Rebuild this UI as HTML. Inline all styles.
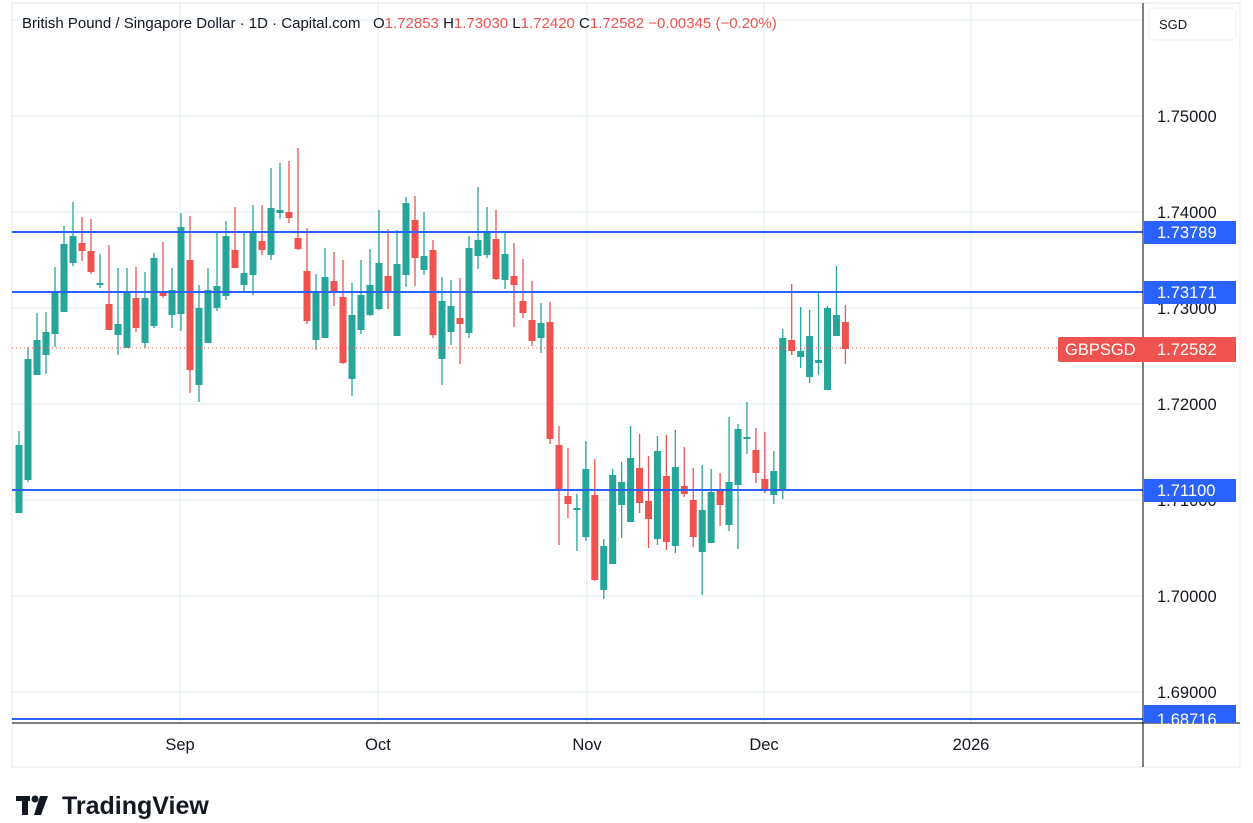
<!DOCTYPE html>
<html><head><meta charset="utf-8"><style>
body{margin:0;background:#fff;width:1253px;height:823px;overflow:hidden;font-family:"Liberation Sans",sans-serif}
svg{position:absolute;left:0;top:0}
</style></head><body>
<svg id="s" width="1253" height="823" xmlns="http://www.w3.org/2000/svg" font-family="Liberation Sans, sans-serif">
<rect x="12" y="3" width="1228" height="764" fill="#fff" stroke="#e8e8e8" stroke-width="1"/>
<g stroke="#e1ecf2" stroke-width="1">
<line x1="12" y1="20" x2="1143" y2="20"/>
<line x1="12" y1="116" x2="1143" y2="116"/>
<line x1="12" y1="212" x2="1143" y2="212"/>
<line x1="12" y1="308" x2="1143" y2="308"/>
<line x1="12" y1="404" x2="1143" y2="404"/>
<line x1="12" y1="500" x2="1143" y2="500"/>
<line x1="12" y1="596" x2="1143" y2="596"/>
<line x1="12" y1="692" x2="1143" y2="692"/>
<line x1="180" y1="3" x2="180" y2="723"/>
<line x1="378" y1="3" x2="378" y2="723"/>
<line x1="587" y1="3" x2="587" y2="723"/>
<line x1="764" y1="3" x2="764" y2="723"/>
<line x1="971" y1="3" x2="971" y2="723"/>
</g>
<g id="c"></g>
<line x1="12" y1="348" x2="1143" y2="348" stroke="#ef5350" stroke-width="1" stroke-dasharray="1,3"/>
<g stroke="#2962ff" stroke-width="2">
<line x1="12" y1="232" x2="1143" y2="232"/>
<line x1="12" y1="292" x2="1143" y2="292"/>
<line x1="12" y1="490" x2="1143" y2="490"/>
<line x1="12" y1="719" x2="1143" y2="719"/>
</g>
<line x1="1143" y1="3" x2="1143" y2="767" stroke="#000" stroke-width="1"/>
<line x1="12" y1="723" x2="1240" y2="723" stroke="#000" stroke-width="1"/>
<rect x="1149" y="8" width="87" height="32" rx="5" fill="#fff" stroke="#eee"/>
<text x="1159" y="29" font-size="13" fill="#131722">SGD</text>
<g font-size="16.5" fill="#131722">
<text x="1157" y="122">1.75000</text>
<text x="1157" y="218">1.74000</text>
<text x="1157" y="314">1.73000</text>
<text x="1157" y="410">1.72000</text>
<text x="1157" y="506">1.71000</text>
<text x="1157" y="602">1.70000</text>
<text x="1157" y="698">1.69000</text>
</g>
<rect x="1144" y="221" width="92" height="23" fill="#2962ff"/>
<text x="1157" y="238" font-size="16.5" fill="#fff">1.73789</text>
<rect x="1144" y="281" width="92" height="23" fill="#2962ff"/>
<text x="1157" y="298" font-size="16.5" fill="#fff">1.73171</text>
<rect x="1144" y="479" width="92" height="23" fill="#2962ff"/>
<text x="1157" y="496" font-size="16.5" fill="#fff">1.71100</text>
<rect x="1144" y="705" width="92" height="18" fill="#2962ff"/>
<text x="1157" y="725" font-size="16.5" fill="#fff">1.68716</text>
<rect x="1058" y="337" width="87" height="25" rx="2" fill="#ef5350"/>
<text x="1065" y="355" font-size="16.5" fill="#fff">GBPSGD</text>
<rect x="1144" y="337" width="92" height="25" fill="#ef5350"/>
<text x="1157" y="355" font-size="16.5" fill="#fff">1.72582</text>
<g font-size="16.5" fill="#131722" text-anchor="middle">
<text x="180" y="750">Sep</text>
<text x="378" y="750">Oct</text>
<text x="587" y="750">Nov</text>
<text x="764" y="750">Dec</text>
<text x="971" y="750">2026</text>
</g>
<text x="22" y="28" font-size="15" fill="#131722">British Pound / Singapore Dollar · 1D · Capital.com</text>
<text x="373" y="28" font-size="15" fill="#131722">O<tspan fill="#ef5350">1.72853</tspan> H<tspan fill="#ef5350">1.73030</tspan> L<tspan fill="#ef5350">1.72420</tspan> C<tspan fill="#ef5350">1.72582</tspan> <tspan fill="#ef5350">−0.00345 (−0.20%)</tspan></text>
<g fill="#131722">
<rect x="16" y="796" width="14" height="5"/><rect x="22" y="796" width="6" height="19"/>
<circle cx="35" cy="799" r="3.5"/><path d="M40 796h8l-7 19h-7z"/>
</g>
<text x="62" y="814" font-size="25" font-weight="bold" fill="#131722">TradingView</text>
</svg>
<script>
var d=[[445,513,431,513,1],[359,480,347,482,1],[340,375,313,375,1],[332,355,312,374,1],[293,334,267,347,1],[244,312,226,312,1],[236,263,202,266,1],[243,251,217,261,0],[251,272,219,274,0],[283,284,254,288,1],[304,330,245,330,0],[324,335,268,355,1],[291,348,268,348,1],[298,328,267,332,0],[298,343,272,348,1],[258,326,253,328,1],[291,296,242,298,0],[290,315,268,328,1],[227,314,213,331,1],[260,370,216,393,0],[308,385,285,402,1],[290,343,268,343,1],[286,308,231,311,1],
[236,296,221,300,1],[250,268,207,268,0],[273,285,232,293,1],[232,275,205,295,1],[241,250,205,255,0],[208,255,168,260,1],[210,213,163,219,1],[212,218,161,223,0],[238,249,148,250,0],[271,321,228,324,0],[291,340,274,350,1],[277,338,248,338,1],[281,293,252,306,0],[297,363,260,364,0],[315,379,283,396,1],[295,330,260,334,1],[285,315,249,316,1],[263,309,210,310,1],[276,293,229,309,0],[264,336,230,336,1],[203,275,197,287,1],[220,258,196,286,0],
[256,270,212,275,1],[250,335,240,338,0],[301,359,277,385,1],[306,332,280,345,1],[318,324,278,364,0],[248,333,236,338,1],[240,256,187,269,1],[233,255,207,258,1],[239,279,210,280,0],[254,280,232,289,1],[276,285,243,327,0],[301,313,259,318,0],[320,341,281,346,0],[323,338,303,353,1],[322,439,302,444,0],[445,490,426,545,0],[496,504,448,518,0],[508,510,494,551,1],[469,537,441,541,1],[495,580,459,581,0],[546,590,539,599,1],
[475,564,469,564,1],[482,505,462,538,1],[458,522,426,522,1],[468,503,434,513,0],[501,519,456,548,0],[451,539,436,545,1],[476,542,435,550,0],[467,546,430,553,1],[486,494,447,497,0],[500,537,468,547,0],[510,552,465,595,1],[492,543,469,543,1],[491,505,473,526,0],[482,525,417,531,1],[429,485,424,549,1],[437,438,402,454,1],[450,473,428,483,0],[479,490,432,493,0],[471,495,451,504,1],[338,490,329,499,1],[340,351,284,355,0],[351,357,307,368,1],[336,377,310,383,1],[360,363,291,375,1],[308,390,306,390,1],[315,336,266,336,1],[322,349,305,364,0]];
var h='';
d.forEach(function(c,i){var x=19+9*i-(i>60?(i-60)*0.05:0);var col=c[4]?'#26a69a':'#ef5350';
h+='<line x1="'+x+'" y1="'+c[2]+'" x2="'+x+'" y2="'+c[3]+'" stroke="'+col+'" stroke-width="1.3"/>';
var bh=Math.max(2,c[1]-c[0]);h+='<rect x="'+(x-3.5)+'" y="'+c[0]+'" width="7" height="'+bh+'" fill="'+col+'"/>';});
document.getElementById('c').innerHTML=h;
</script>
</body></html>
